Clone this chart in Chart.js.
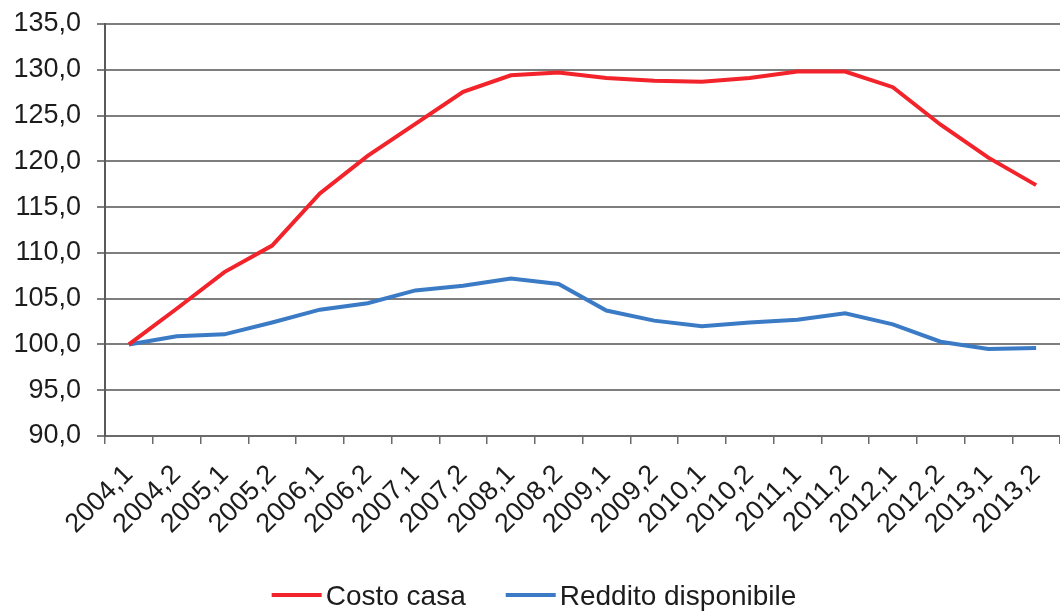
<!DOCTYPE html>
<html lang="it">
<head>
<meta charset="utf-8">
<title>Costo casa e reddito disponibile</title>
<script src="https://cdn.jsdelivr.net/npm/chart.js@4.4.0/dist/chart.umd.min.js"></script>
<style>
  html, body { margin: 0; padding: 0; background: #ffffff; }
  #wrap { width: 1060px; height: 611px; }
</style>
</head>
<body>
<div id="wrap"><canvas id="grafico" width="1060" height="611"></canvas></div>
<script>
// Semestri (anno,semestre)
const periodi = [
  '2004,1', '2004,2', '2005,1', '2005,2', '2006,1', '2006,2', '2007,1', '2007,2',
  '2008,1', '2008,2', '2009,1', '2009,2', '2010,1', '2010,2', '2011,1', '2011,2',
  '2012,1', '2012,2', '2013,1', '2013,2'
];

// Indici (2004,1 = 100)
const costoCasa = [
  100.0, 103.9, 107.9, 110.8, 116.5, 120.6, 124.1, 127.6, 129.4, 129.7,
  129.1, 128.8, 128.7, 129.1, 129.8, 129.8, 128.1, 124.0, 120.4, 117.4
];
const redditoDisponibile = [
  100.0, 100.9, 101.1, 102.4, 103.8, 104.5, 105.9, 106.4, 107.2, 106.6,
  103.7, 102.6, 102.0, 102.4, 102.7, 103.4, 102.2, 100.3, 99.5, 99.6
];

// Scala dell'asse verticale
const yMin = 90;
const yMax = 135;
const yPasso = 5;

const FONT = '"Liberation Sans", Arial, Helvetica, sans-serif';
const ROSSO = '#f2232a';
const BLU = '#3b7bc6';
const TESTO = '#1c1c1c';

// Legenda in basso: segmento colorato seguito dall'etichetta
const legendaLinee = {
  id: 'legendaLinee',
  afterDraw(chart) {
    const ctx = chart.ctx;
    ctx.save();
    ctx.font = '28px ' + FONT;
    const lungLinea = 50, spazioTesto = 4, spazioVoci = 40;
    const voci = chart.data.datasets.map(ds => ({
      testo: ds.label,
      colore: ds.borderColor,
      w: ctx.measureText(ds.label).width
    }));
    const totale = voci.reduce((s, v) => s + lungLinea + spazioTesto + v.w, 0) + spazioVoci * (voci.length - 1);
    let x = chart.width / 2 + 4 - totale / 2;
    const yLinea = 595, yTesto = 605;
    voci.forEach(v => {
      ctx.strokeStyle = v.colore;
      ctx.lineWidth = 4;
      ctx.lineCap = 'butt';
      ctx.beginPath();
      ctx.moveTo(x, yLinea);
      ctx.lineTo(x + lungLinea, yLinea);
      ctx.stroke();
      ctx.fillStyle = TESTO;
      ctx.textAlign = 'left';
      ctx.textBaseline = 'alphabetic';
      ctx.fillText(v.testo, x + lungLinea + spazioTesto, yTesto);
      x += lungLinea + spazioTesto + v.w + spazioVoci;
    });
    ctx.restore();
  }
};

new Chart(document.getElementById('grafico'), {
  type: 'line',
  data: {
    labels: periodi,
    datasets: [
      {
        label: 'Costo casa',
        data: costoCasa,
        borderColor: ROSSO,
        backgroundColor: ROSSO,
        borderWidth: 4,
        pointRadius: 0,
        tension: 0
      },
      {
        label: 'Reddito disponibile',
        data: redditoDisponibile,
        borderColor: BLU,
        backgroundColor: BLU,
        borderWidth: 4,
        pointRadius: 0,
        tension: 0
      }
    ]
  },
  options: {
    responsive: false,
    animation: false,
    devicePixelRatio: 1,
    layout: { padding: { top: 24, left: 0, right: 0, bottom: 0 } },
    plugins: {
      legend: { display: false },
      tooltip: { enabled: false },
      title: { display: false }
    },
    scales: {
      x: {
        offset: true,
        grid: {
          display: true,
          drawOnChartArea: false,
          drawTicks: true,
          offset: true,
          tickLength: 8,
          color: '#6a6a6a',
          lineWidth: 1.5
        },
        border: { display: true, color: '#6a6a6a', width: 2 },
        ticks: {
          autoSkip: false,
          minRotation: 45,
          maxRotation: 45,
          padding: 15,
          color: TESTO,
          font: { family: FONT, size: 27 }
        },
        afterFit(scale) {
          scale.height = 611 - 436;
          scale.paddingLeft = 0;
          scale.paddingRight = 0;
        }
      },
      y: {
        min: yMin,
        max: yMax,
        grid: {
          color: '#7e7e7e',
          lineWidth: 2,
          tickLength: 8,
          drawTicks: true
        },
        border: { display: true, color: '#5a5a5a', width: 2 },
        ticks: {
          stepSize: yPasso,
          padding: 16,
          color: TESTO,
          font: { family: FONT, size: 27 },
          callback: v => v.toFixed(1).replace('.', ',')
        },
        afterFit(scale) {
          scale.width = 105;
          scale.paddingTop = 0;
          scale.paddingBottom = 0;
        }
      }
    }
  },
  plugins: [legendaLinee]
});
</script>
</body>
</html>
